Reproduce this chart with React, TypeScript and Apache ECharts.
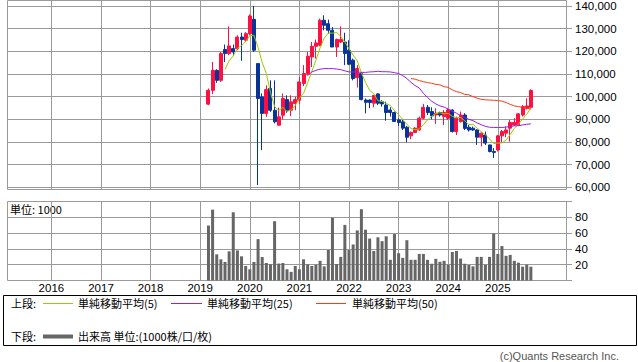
import React, { useEffect, useRef } from "react";
import * as echarts from "echarts";

// ---- axis categories: months from 2015-03 to 2026-05 ----
const START_YEAR = 2015;
const START_MONTH = 3;
const MONTH_COUNT = 135;
const categories: string[] = [];
for (let i = 0; i < MONTH_COUNT; i++) {
  const t = START_MONTH - 1 + i;
  categories.push(`${START_YEAR + Math.floor(t / 12)}-${String((t % 12) + 1).padStart(2, "0")}`);
}
const DATA_START = 48; // 2019-03 is the 49th category

const yearLabels = ["2016", "2017", "2018", "2019", "2020", "2021", "2022", "2023", "2024", "2025"];
const priceTicks = [60, 70, 80, 90, 100, 110, 120, 130, 140];
const volumeTicks = [20, 40, 60, 80];

// ---- monthly OHLC (thousand yen), 2019-03 .. 2025-09 ----
const opens = [
  96.7, 102.8, 111.6, 107.2, 120.8, 119.0, 121.2, 121.2, 126.3, 124.9,
  127.8, 134.1, 114.6, 99.9, 92.6, 103.6, 94.0, 87.4, 91.8, 98.7, 94.0, 97.0,
  98.4, 105.8, 110.2, 117.5, 122.2, 122.7, 133.7, 132.2, 129.3, 121.9, 124.1, 124.1,
  120.5, 116.1, 108.4, 110.2, 98.5, 98.5, 97.1, 101.2, 97.8, 96.3, 94.1, 93.0,
  89.7, 88.9, 86.5, 82.7, 84.2, 85.3, 90.5, 95.3, 93.4, 91.9, 93.0, 91.2,
  90.5, 94.1, 84.6, 89.0, 91.9, 86.5, 86.1, 85.3, 82.1, 83.1, 78.7, 75.8,
  76.5, 82.7, 83.9, 86.1, 87.5, 87.5, 91.9, 94.9, 95.3,
];
const closes = [
  102.8, 111.6, 107.2, 119.0, 119.0, 122.4, 119.7, 126.3, 125.2, 127.8,
  135.6, 120.5, 99.2, 92.6, 103.1, 94.0, 88.9, 91.1, 99.2, 94.0, 97.7, 98.7,
  106.5, 110.2, 117.8, 122.2, 123.7, 133.7, 131.5, 129.3, 121.9, 125.2, 125.2, 119.0,
  114.3, 108.0, 112.4, 98.7, 97.5, 97.4, 100.5, 97.1, 96.8, 93.0, 93.0, 89.0,
  88.6, 86.1, 82.1, 84.2, 86.1, 90.5, 95.3, 93.0, 91.5, 92.7, 91.9, 93.0,
  94.1, 84.6, 90.5, 91.9, 86.0, 85.3, 85.3, 82.1, 83.9, 79.5, 75.8, 75.4,
  82.7, 84.6, 85.3, 88.6, 88.6, 92.4, 95.6, 95.9, 102.7,
];
const highs = [
  103.6, 115.3, 112.1, 119.7, 123.0, 131.0, 123.0, 127.1, 128.2, 128.5,
  136.3, 140.0, 114.6, 101.4, 105.0, 107.2, 107.2, 95.2, 101.4, 100.6, 100.6, 99.9,
  108.7, 113.9, 119.7, 124.1, 125.2, 134.4, 135.9, 134.0, 130.7, 125.6, 131.0, 128.2,
  124.9, 116.8, 113.9, 110.9, 99.2, 98.8, 100.8, 101.5, 98.5, 97.8, 95.3, 93.4,
  90.5, 89.7, 87.1, 84.6, 86.5, 91.2, 96.8, 96.3, 95.3, 94.9, 93.4, 94.1,
  94.9, 94.4, 91.2, 93.4, 92.7, 87.5, 86.8, 85.6, 84.2, 84.6, 78.7, 77.3,
  83.1, 85.3, 86.8, 89.7, 90.5, 92.7, 96.3, 99.3, 103.2,
];
const lows = [
  96.2, 101.1, 106.1, 106.5, 115.3, 118.3, 118.3, 120.5, 115.8, 124.1,
  127.1, 119.7, 61.0, 76.4, 91.1, 93.3, 88.2, 87.4, 89.9, 92.9, 91.4, 94.0,
  96.7, 104.6, 109.4, 113.1, 116.8, 122.2, 129.3, 127.8, 121.9, 117.5, 123.7, 113.9,
  113.9, 107.2, 104.0, 98.4, 92.6, 94.9, 95.3, 96.3, 95.6, 89.4, 91.2, 89.0,
  87.1, 85.3, 79.8, 81.2, 83.9, 85.0, 90.0, 91.9, 90.0, 88.0, 91.2, 87.5,
  89.7, 84.2, 83.1, 88.6, 85.3, 84.6, 84.9, 78.7, 78.0, 78.7, 75.4, 72.9,
  75.8, 79.8, 82.1, 80.2, 87.1, 87.1, 91.2, 94.4, 94.9,
];
// ---- volume (x1000), 2019-03 .. 2025-09 ----
const volumes = [
  69.6, 89.7, 33.1, 26.8, 23.5, 36.9, 86.3, 38.1, 30.6, 18.4,
  14.2, 23.5, 52.4, 29.7, 22.2, 20.5, 75.0, 21.4, 22.2, 14.2, 10.9, 18.4,
  14.2, 26.8, 20.5, 18.4, 20.0, 24.9, 17.9, 38.6, 79.5, 20.8, 29.9, 70.4,
  38.6, 45.6, 63.4, 90.3, 64.3, 53.1, 37.4, 54.7, 49.8, 56.0, 26.2, 58.8,
  34.5, 28.7, 51.0, 26.2, 26.2, 33.6, 33.6, 26.2, 21.2, 27.4, 23.7, 24.9,
  20.0, 36.1, 37.4, 27.8, 21.2, 19.6, 17.9, 29.9, 29.9, 20.0, 29.9, 59.6,
  33.6, 43.6, 31.2, 32.4, 24.9, 22.5, 17.5, 20.0, 17.5,
];
// ---- moving averages ----
// MA5: 2019-07 .. 2025-09
const MA5_START = 4;
const ma5 = [
  112.0, 115.8, 118.0, 121.3, 122.5, 124.3,
  126.9, 127.1, 121.7, 115.1, 110.2, 101.9, 95.6, 93.9, 95.3, 93.4, 94.2, 96.1,
  99.2, 101.4, 106.2, 111.1, 116.1, 121.5, 125.8, 128.1, 128.0, 128.3, 126.6, 124.1,
  121.1, 118.3, 115.8, 110.5, 106.2, 102.8, 101.3, 98.2, 97.9, 97.0, 96.1, 93.8,
  92.1, 89.9, 87.8, 86.0, 85.4, 85.8, 87.6, 89.8, 91.3, 92.6, 92.9, 92.4,
  92.6, 91.3, 90.8, 90.8, 89.4, 87.7, 87.8, 86.1, 84.5, 83.2, 81.3, 79.3,
  79.5, 79.6, 80.8, 83.3, 86.0, 87.9, 90.1, 92.2, 95.0,
];
// MA25: 2021-03 .. 2025-09
const MA25_START = 24;
const ma25 = [
  109.3, 110.9, 111.6, 112.1, 112.4, 112.4, 112.4, 112.2, 111.9, 111.4,
  110.9, 110.9, 110.9, 110.7, 110.7, 110.9, 111.0, 111.2, 111.0, 111.0, 110.9, 110.6,
  110.2, 109.3, 108.0, 106.3, 104.9, 103.8, 101.5, 99.6, 98.0, 96.8, 95.9, 95.4,
  94.5, 93.6, 92.7, 91.6, 90.8, 90.0, 89.4, 88.4, 87.6, 86.9, 86.5, 86.4,
  86.4, 86.4, 86.6, 86.8, 87.1, 87.2, 87.5, 87.8, 88.0,
];
// MA50: 2023-04 .. 2025-09
const MA50_START = 49;
const ma50 = [
  108.0, 107.7, 107.1, 106.6, 106.2, 105.9, 105.4, 105.2, 104.4,
  104.1, 103.0, 102.2, 101.8, 101.0, 100.8, 100.0, 99.3, 98.8, 98.6, 98.5, 98.4,
  98.3, 98.0, 97.4, 96.6, 95.9, 95.6, 95.3, 95.0, 94.5,
];

const UP = "#ff1040";
const DOWN = "#0a3399";
const GRID_C = "#9a9a9a";

function pad<T>(arr: T[], offset: number): (T | "-")[] {
  const out: (T | "-")[] = [];
  for (let i = 0; i < MONTH_COUNT; i++) {
    const j = i - offset;
    out.push(j >= 0 && j < arr.length ? arr[j] : "-");
  }
  return out;
}

const PLOT_L = 8;
const PLOT_R = 566;
const BAND = (PLOT_R - PLOT_L) / MONTH_COUNT;
// month value counted from 2015-01 (Jan 2016 = 12); category index = value - 2
const xOfMonth = (v: number) => PLOT_L + (v - (START_MONTH - 1) + 0.5) * BAND;
const GX0 = xOfMonth(12);
const GX1 = xOfMonth(120);

const FONT = "'Liberation Sans', Arial, sans-serif";
const CJK = "'Noto Sans CJK JP', 'Noto Sans', sans-serif";

export default function App() {
  const ref = useRef<HTMLDivElement>(null);
  useEffect(() => {
    if (!ref.current) return;
    const chart = echarts.init(ref.current, undefined, { renderer: "svg" });

    const candleData: any[] = [];
    for (let i = 0; i < MONTH_COUNT; i++) {
      const j = i - DATA_START;
      if (j >= 0 && j < opens.length) candleData.push([opens[j], closes[j], lows[j], highs[j]]);
      else candleData.push(["-", "-", "-", "-"]);
    }

    const legendText = (x: number, y: number, t: string) => ({
      type: "text",
      x,
      y,
      style: { text: t, fill: "#000", font: `11px ${CJK}`, textVerticalAlign: "middle" },
    });
    const legendLine = (x1: number, x2: number, y: number, c: string, w: number) => ({
      type: "line",
      shape: { x1, y1: y, x2, y2: y },
      style: { stroke: c, lineWidth: w },
    });

    const option: any = {
      animation: false,
      backgroundColor: "#ffffff",
      grid: [
        { left: PLOT_L, top: 5.8, width: PLOT_R - PLOT_L, height: 181.5 },
        { left: GX0, top: 0.5, width: GX1 - GX0, height: 189 },
        { left: PLOT_L, top: 201.5, width: PLOT_R - PLOT_L, height: 79 },
        { left: GX0, top: 201.5, width: GX1 - GX0, height: 79 },
      ],
      xAxis: [
        { gridIndex: 0, type: "category", data: categories, boundaryGap: true, show: false },
        {
          gridIndex: 1, type: "value", min: 12, max: 120, interval: 12,
          axisLine: { show: false }, axisTick: { show: false }, axisLabel: { show: false },
          splitLine: { show: true, lineStyle: { color: GRID_C, width: 1 } },
        },
        { gridIndex: 2, type: "category", data: categories, boundaryGap: true, show: false },
        {
          gridIndex: 3, type: "value", min: 12, max: 120, interval: 12,
          axisLine: { show: false }, axisTick: { show: false },
          axisLabel: {
            show: true, margin: 1, color: "#000", fontSize: 11.5, fontFamily: FONT,
            formatter: (v: number) => yearLabels[Math.round((v - 12) / 12)] ?? "",
          },
          splitLine: { show: true, lineStyle: { color: GRID_C, width: 1 } },
        },
      ],
      yAxis: [
        {
          gridIndex: 0, type: "value", position: "right",
          min: priceTicks[0], max: priceTicks[priceTicks.length - 1], interval: 10,
          axisLine: { show: false },
          axisTick: { show: true, length: 6, lineStyle: { color: GRID_C } },
          axisLabel: {
            margin: 9, color: "#000", fontSize: 11.5, fontFamily: FONT,
            formatter: (v: number) => (v * 1000).toLocaleString("en-US"),
          },
          splitLine: { show: true, lineStyle: { color: GRID_C, width: 1 } },
        },
        { gridIndex: 1, type: "value", min: 0, max: 1, show: false },
        {
          gridIndex: 2, type: "value", position: "right", min: 0, max: 100, interval: 20,
          axisLine: { show: false },
          axisTick: { show: true, length: 6, lineStyle: { color: GRID_C } },
          axisLabel: {
            margin: 9, color: "#000", fontSize: 11.5, fontFamily: FONT,
            formatter: (v: number) => (volumeTicks.indexOf(v) >= 0 ? String(v) : ""),
          },
          splitLine: { show: true, lineStyle: { color: GRID_C, width: 1 } },
        },
        { gridIndex: 3, type: "value", min: 0, max: 1, show: false },
      ],
      series: [
        {
          type: "candlestick", xAxisIndex: 0, yAxisIndex: 0, data: candleData, barWidth: 3.5,
          itemStyle: { color: UP, color0: DOWN, borderColor: UP, borderColor0: DOWN, borderWidth: 1 },
          z: 3,
        },
        {
          type: "line", xAxisIndex: 0, yAxisIndex: 0, data: pad(ma5, DATA_START + MA5_START),
          symbol: "none", lineStyle: { color: "#99cc00", width: 1 }, z: 5,
        },
        {
          type: "line", xAxisIndex: 0, yAxisIndex: 0, data: pad(ma25, DATA_START + MA25_START),
          symbol: "none", lineStyle: { color: "#9a1cf0", width: 1 }, z: 5,
        },
        {
          type: "line", xAxisIndex: 0, yAxisIndex: 0, data: pad(ma50, DATA_START + MA50_START),
          symbol: "none", lineStyle: { color: "#ff3a10", width: 1 }, z: 5,
        },
        {
          type: "bar", xAxisIndex: 2, yAxisIndex: 2, data: pad(volumes, DATA_START), barWidth: 3,
          itemStyle: { color: "#666666" }, z: 3,
        },
      ],
      graphic: [
        { type: "rect", shape: { x: 7.5, y: 0.5, width: 559, height: 189 }, style: { fill: "none", stroke: GRID_C, lineWidth: 1 }, z: 1 },
        { type: "rect", shape: { x: 7.5, y: 201.5, width: 559, height: 79 }, style: { fill: "none", stroke: GRID_C, lineWidth: 1 }, z: 1 },
        {
          type: "text", x: 10, y: 209,
          style: { text: "単位: 1000", fill: "#000", font: `11px ${CJK}`, textVerticalAlign: "middle" },
        },
        { type: "rect", shape: { x: 3.5, y: 295.5, width: 633, height: 50 }, style: { fill: "none", stroke: "#000", lineWidth: 1 } },
        legendText(11, 303, "上段:"),
        legendLine(43, 73, 303.5, "#99cc00", 1),
        legendText(78, 303, "単純移動平均(5)"),
        legendLine(171, 202, 303.5, "#9a1cf0", 1),
        legendText(207, 303, "単純移動平均(25)"),
        legendLine(316, 346, 303.5, "#ff3a10", 1),
        legendText(352, 303, "単純移動平均(50)"),
        legendText(11, 336, "下段:"),
        legendLine(43, 73, 336.5, "#666666", 4),
        legendText(78, 336, "出来高 単位:(1000株/口/枚)"),
        {
          type: "text", x: 619, y: 356,
          style: { text: "(c)Quants Research Inc.", fill: "#555", font: `11px ${FONT}`, textAlign: "right", textVerticalAlign: "middle" },
        },
      ],
    };
    chart.setOption(option);
    return () => chart.dispose();
  }, []);
  return <div ref={ref} style={{ width: 638, height: 362, position: "absolute", left: 0, top: 0 }} />;
}
